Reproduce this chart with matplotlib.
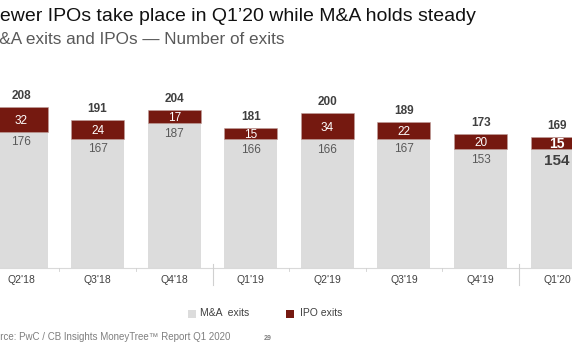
import matplotlib
matplotlib.use("Agg")
import matplotlib.pyplot as plt
from matplotlib.patches import Rectangle

plt.rcParams['font.family'] = ['Liberation Sans', 'DejaVu Sans']

quarters = ["Q2'18", "Q3'18", "Q4'18", "Q1'19", "Q2'19", "Q3'19", "Q4'19", "Q1'20"]
ma_exits = [176, 167, 187, 166, 166, 167, 153, 154]
ipo_exits = [32, 24, 17, 15, 34, 22, 20, 15]
totals = [208, 191, 204, 181, 200, 189, 173, 169]

title = "Fewer IPOs take place in Q1\u201920 while M&A holds steady"
subtitle = "M&A exits and IPOs \u2014 Number of exits"
source = "Source: PwC / CB Insights MoneyTree\u2122 Report Q1 2020"
page = "29"

GRAY = "#DCDCDC"
RED = "#751910"
W, H = 572, 364

fig = plt.figure(figsize=(W / 100, H / 100), dpi=100)

def fx(x):
    return x / W

def fy(y):
    return 1 - y / H

# axes: baseline at y=268 px, 0.775 px/unit
px_per_cat = 76.6
first_center = 21
base_y = 268
ppu = 0.775
ax_top_px = 60
ax = fig.add_axes([0, fy(base_y), 1, (base_y - ax_top_px) / H])
ax.set_xlim(-first_center / px_per_cat, (W - first_center) / px_per_cat)
ax.set_ylim(0, (base_y - ax_top_px) / ppu)
ax.axis('off')

x = list(range(len(quarters)))
bw = 53 / px_per_cat
ax.bar(x, ma_exits, width=bw, color=GRAY, edgecolor='none')
ax.bar(x, ipo_exits, bottom=ma_exits, width=bw, color=RED, edgecolor='#C0A09C', linewidth=0.4)

for i in x:
    last = (i == len(quarters) - 1)
    fw = 'bold' if last else 'normal'
    ax.annotate(str(totals[i]), (i, ma_exits[i] + ipo_exits[i]), xytext=(0, 3.5),
                textcoords='offset points', ha='center', va='bottom',
                fontsize=8.5, fontweight='bold', color='#404040')
    ax.text(i, ma_exits[i] + ipo_exits[i] / 2, str(ipo_exits[i]), ha='center', va='center_baseline',
            fontsize=10 if last else 8.5, fontweight=fw, color='white')
    ax.annotate(str(ma_exits[i]), (i, ma_exits[i]), xytext=(0, -3.5),
                textcoords='offset points', ha='center', va='top',
                fontsize=11 if last else 8.5, fontweight=fw, color='#404040' if last else '#595959')

# baseline and separators
ax.axhline(0, color='#D9D9D9', linewidth=0.8, clip_on=False)
for b in [0.5, 1.5, 3.5, 4.5, 5.5]:
    ax.plot([b, b], [0, -3 / ppu], color='#D0D0D0', linewidth=0.6, clip_on=False)
for b in [2.5, 6.5]:
    ax.plot([b, b], [4 / ppu, -17 / ppu], color='#D0D0D0', linewidth=0.8, clip_on=False)
for i, q in enumerate(quarters):
    ax.text(i, -12 / ppu, q, ha='center', va='center', fontsize=7.5, color='#404040', clip_on=False)

# titles
fig.text(fx(-12), fy(21), title, fontsize=14, color='#111111', ha='left', va='baseline')
fig.text(fx(-15), fy(44), subtitle, fontsize=12.3, color='#595959', ha='left', va='baseline')

# legend
fig.patches.append(Rectangle((fx(188), fy(317.5)), 8 / W, 8 / H, transform=fig.transFigure,
                             facecolor=GRAY, edgecolor='none'))
fig.text(fx(200), fy(313.5), "M&A  exits", fontsize=7.5, color='#404040', va='center', ha='left')
fig.patches.append(Rectangle((fx(286), fy(317.5)), 8 / W, 8 / H, transform=fig.transFigure,
                             facecolor=RED, edgecolor='none'))
fig.text(fx(300), fy(313.5), "IPO exits", fontsize=7.5, color='#404040', va='center', ha='left')

# source
fig.text(fx(-17), fy(337), source, fontsize=7, color='#7F7F7F', ha='left', va='center')
fig.text(fx(264), fy(338.5), page, fontsize=5, color='#7F7F7F', fontweight='bold', ha='left', va='center')

fig.savefig("out.png", dpi=100)
